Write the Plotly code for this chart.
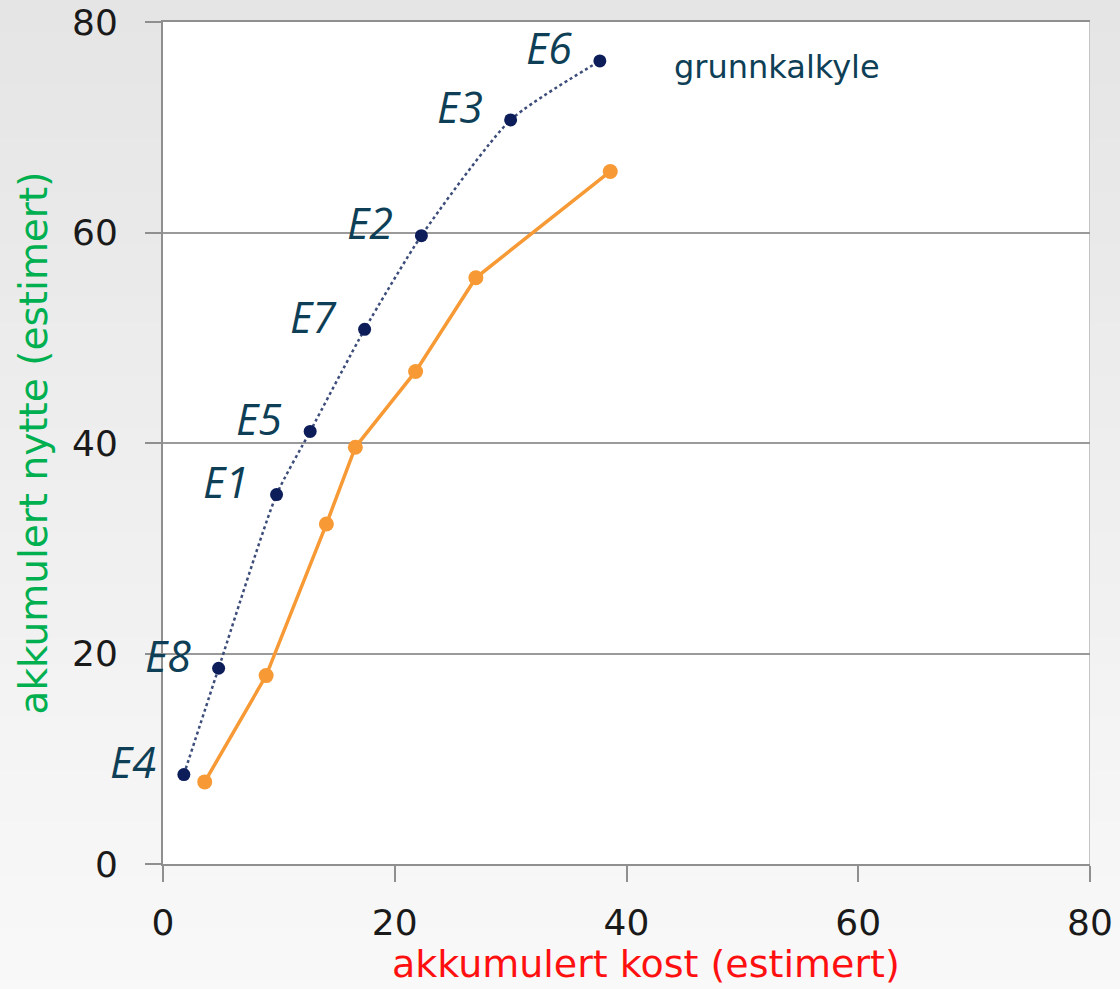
import plotly.graph_objects as go

# Data
base_names = ["E4", "E8", "E1", "E5", "E7", "E2", "E3", "E6"]
base_cost = [1.8, 4.8, 9.8, 12.7, 17.4, 22.3, 30.0, 37.7]
base_benefit = [8.5, 18.6, 35.1, 41.1, 50.8, 59.7, 70.7, 76.3]

alt_cost = [3.6, 8.9, 14.1, 16.6, 21.8, 27.0, 38.6]
alt_benefit = [7.8, 17.9, 32.3, 39.6, 46.8, 55.7, 65.8]

base_label = "grunnkalkyle"
base_label_pos = (43.9, 75.7)

x_ticks = [0, 20, 40, 60, 80]
y_ticks = [0, 20, 40, 60, 80]

label_color = "#0e3f56"
title_font = "DejaVu Sans"

fig = go.Figure()

# background gradient (light grey, lighter toward the bottom)
n_bands = 40
for i in range(n_bands):
    y0 = -0.2 + i * (1.25 / n_bands)
    y1 = y0 + 1.25 / n_bands + 0.002
    g = int(250 - 21 * i / (n_bands - 1))
    fig.add_shape(type="rect", xref="paper", yref="paper",
                  x0=-0.25, x1=1.05, y0=y0, y1=y1,
                  fillcolor=f"rgb({g},{g},{g})", line_width=0, layer="below")

fig.add_shape(type="rect", xref="x", yref="y", x0=0, x1=80, y0=0, y1=80,
              fillcolor="white", line_width=0, layer="below")
# light right border of the plot area
fig.add_shape(type="line", xref="x", yref="y", x0=80, x1=80, y0=0, y1=80,
              line=dict(color="#c4c4c4", width=2), layer="below")

fig.add_trace(go.Scatter(
    x=alt_cost, y=alt_benefit, mode="lines+markers",
    line=dict(color="#f79a35", width=3.5),
    marker=dict(color="#f79a35", size=15),
    showlegend=False, cliponaxis=False,
))

fig.add_trace(go.Scatter(
    x=base_cost, y=base_benefit, mode="lines+markers",
    line=dict(color="#3d4d7a", width=2.5, dash="dot", shape="spline", smoothing=0.6),
    marker=dict(color="#0c1d5a", size=13),
    showlegend=False, cliponaxis=False,
))

for name, cx, cy in zip(base_names, base_cost, base_benefit):
    fig.add_annotation(x=cx, y=cy, text=name, showarrow=False,
                       xanchor="right", yanchor="middle", xshift=-26, yshift=13,
                       font=dict(family="Open Sans", size=43, color=label_color,
                                 style="italic"))

fig.add_annotation(x=base_label_pos[0], y=base_label_pos[1], text=base_label,
                   showarrow=False, xanchor="left", yanchor="middle",
                   font=dict(family=title_font, size=32, color=label_color))

# x axis title, placed slightly right of centre as in the original
fig.add_annotation(xref="paper", yref="paper", x=0.5, y=0, yshift=-76, xshift=19,
                   text="akkumulert kost (estimert)", showarrow=False,
                   xanchor="center", yanchor="top",
                   font=dict(family=title_font, size=38, color="#ff1010"))

fig.update_layout(
    width=1120, height=989,
    margin=dict(l=163, r=30, t=22, b=125),
    paper_bgcolor="#eeeeee",
    plot_bgcolor="rgba(0,0,0,0)",
    showlegend=False,
)

fig.update_xaxes(
    range=[0, 80], tickvals=x_ticks, showgrid=False, zeroline=False,
    showline=True, linecolor="#8f8f8f", linewidth=2, mirror=True, automargin=False,
    ticks="outside", ticklen=16, tickwidth=2, tickcolor="#8f8f8f",
    ticklabelstandoff=10, ticklabeloverflow="allow",
    tickfont=dict(family="DejaVu Sans", size=36, color="#1a1a1a"),
)
fig.update_yaxes(
    range=[0, 80], tickvals=y_ticks, showgrid=True, gridcolor="#9a9a9a",
    gridwidth=2, zeroline=False, automargin=False,
    showline=True, linecolor="#8f8f8f", linewidth=2,
    ticks="outside", ticklen=16, tickwidth=2, tickcolor="#8f8f8f",
    ticklabelstandoff=20, ticklabeloverflow="allow",
    tickfont=dict(family="DejaVu Sans", size=36, color="#1a1a1a"),
    title=dict(text="akkumulert nytte (estimert)", standoff=12,
               font=dict(family=title_font, size=39, color="#00b050")),
)

# drop the page's default body margin so the figure fills the window
fig.write_html("out.html", config={"displayModeBar": False},
               post_script="document.body.style.margin='0';document.body.style.overflow='hidden';")
